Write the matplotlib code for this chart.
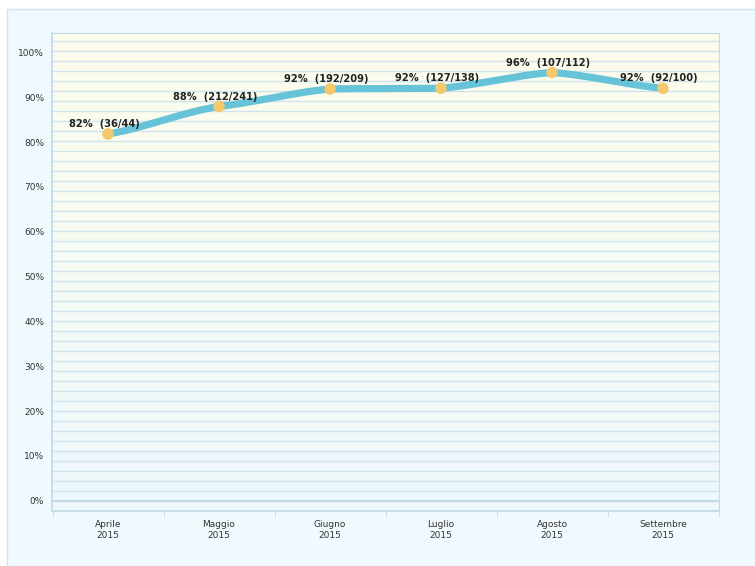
import numpy as np
import matplotlib.pyplot as plt
from matplotlib.colors import LinearSegmentedColormap
from matplotlib.patches import Rectangle

months = ["Aprile", "Maggio", "Giugno", "Luglio", "Agosto", "Settembre"]
year = "2015"
ok_counts = [36, 212, 192, 127, 107, 92]
totals = [44, 241, 209, 138, 112, 100]
y_ticks = [0, 10, 20, 30, 40, 50, 60, 70, 80, 90, 100]

pct = [100 * a / b for a, b in zip(ok_counts, totals)]
labels = [f"{round(p)}%  ({a}/{b})" for p, a, b in zip(pct, ok_counts, totals)]


def smooth(xs, ys, n=30, tension=0.35):
    # gently rounded curve through the points, only for drawing
    xs, ys = np.asarray(xs, float), np.asarray(ys, float)
    m = np.gradient(ys, xs) * tension
    out_x, out_y = [], []
    for i in range(len(xs) - 1):
        t = np.linspace(0, 1, n)
        h = xs[i + 1] - xs[i]
        h00 = 2 * t**3 - 3 * t**2 + 1
        h10 = t**3 - 2 * t**2 + t
        h01 = -2 * t**3 + 3 * t**2
        h11 = t**3 - t**2
        lin = ys[i] + t * (ys[i + 1] - ys[i])
        herm = h00 * ys[i] + h10 * h * m[i] + h01 * ys[i + 1] + h11 * h * m[i + 1]
        out_x.append(xs[i] + t * h)
        out_y.append(0.5 * lin + 0.5 * herm)
    return np.concatenate(out_x), np.concatenate(out_y)


fig = plt.figure(figsize=(7.55, 5.66), dpi=100, facecolor="white")

# outer panel
fig.patches.append(Rectangle((7 / 755, 0), 1, 1 - 9 / 566, transform=fig.transFigure,
                             facecolor="#f0f9fe", edgecolor="#cfe4f1", lw=1, zorder=-10))

ax = fig.add_axes([52.5 / 755, (566 - 510.7) / 566, 666 / 755, (510.7 - 33) / 566])
ax.set_facecolor("none")

px = 4.482  # pixels per percent
ylo = -10 / px
yhi = ylo + (510.7 - 33) / px
ax.set_xlim(-0.5, len(months) - 0.5)
ax.set_ylim(ylo, yhi)

cmap = LinearSegmentedColormap.from_list("bg", ["#eef7fc", "#f6fbf4", "#fdfdec"])
ax.imshow(np.linspace(0, 1, 256).reshape(-1, 1), cmap=cmap, aspect="auto",
          extent=(-0.5, len(months) - 0.5, ylo, yhi), origin="lower", zorder=0)

for g in np.arange(ylo, yhi, 10 / px):
    ax.axhline(g, color="#cfe3ee", lw=1, zorder=1)
ax.axhline(0, color="#c0d9e8", lw=1.3, zorder=1)

xs = np.arange(len(months))
cx, cy = smooth(xs, pct)
ax.plot(cx, cy, color="#67c3d8", lw=5.2, solid_capstyle="round", zorder=3)
ax.scatter(xs, pct, s=70, color="#f4c86c", edgecolor="none", zorder=4)

for x, p, lab in zip(xs, pct, labels):
    ax.text(x - 0.035, p + 1.1, lab, ha="center", va="bottom", fontsize=7.1,
            fontweight="bold", color="#222222", zorder=5)

ax.set_yticks(y_ticks)
ax.set_yticklabels([f"{v}%" for v in y_ticks])
ax.set_xticks(xs)
ax.set_xticklabels([f"{m}\n{year}" for m in months])
ax.set_xticks(np.arange(-0.5, len(months)), minor=True)
ax.tick_params(axis="y", length=0, pad=6, labelsize=6.5, colors="#333333")
ax.tick_params(axis="x", which="major", length=0, pad=7, labelsize=6.5, colors="#333333")
ax.tick_params(axis="x", which="minor", length=4, color="#c4dbe8")
for lab in ax.get_xticklabels():
    lab.set_linespacing(1.2)

for side in ["left", "bottom", "top", "right"]:
    ax.spines[side].set_color("#c4dbe8")
ax.spines["left"].set_linewidth(1.3)
ax.spines["bottom"].set_linewidth(1.3)

fig.savefig("out.png", dpi=100, facecolor="white")
